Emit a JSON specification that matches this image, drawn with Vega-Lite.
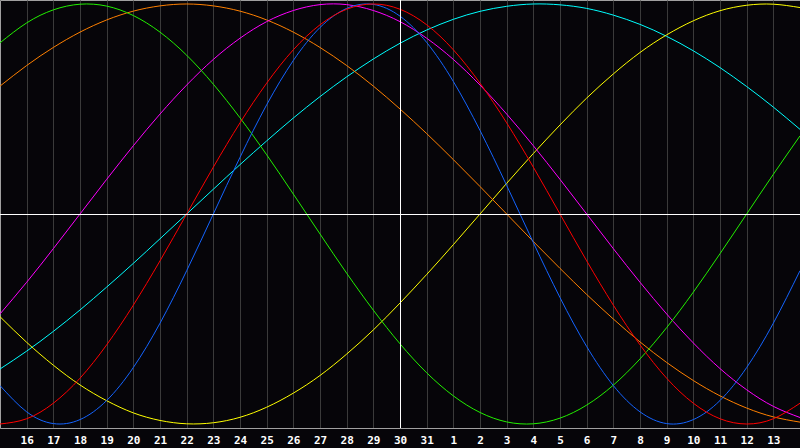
{
  "$schema": "https://vega.github.io/schema/vega-lite/v6.json",
  "width": 800,
  "height": 428,
  "autosize": {"type": "none"},
  "padding": {"left": 0, "top": 0, "right": 0, "bottom": 20},
  "background": "#060509",
  "config": {
    "view": {"stroke": "#a0a0a0", "strokeWidth": 1},
    "axis": {"labelFont": "DejaVu Sans Mono", "labelFontWeight": "bold", "labelFontSize": 11, "labelColor": "#ffffff", "labelOverlap": false}
  },
  "resolve": {"axis": {"x": "independent", "y": "independent"}},
  "datasets": {
    "curves": [
      {"d": 0, "red": -1, "blue": -0.817, "green": 0.815, "magenta": -0.476, "yellow": -0.489, "orange": 0.609, "cyan": -0.738},
      {"d": 1, "red": -0.975, "blue": -0.942, "green": 0.910, "magenta": -0.325, "yellow": -0.611, "orange": 0.707, "cyan": -0.653},
      {"d": 2, "red": -0.901, "blue": -0.998, "green": 0.972, "magenta": -0.165, "yellow": -0.720, "orange": 0.793, "cyan": -0.559},
      {"d": 3, "red": -0.782, "blue": -0.979, "green": 0.999, "magenta": 0, "yellow": -0.814, "orange": 0.866, "cyan": -0.457},
      {"d": 4, "red": -0.623, "blue": -0.888, "green": 0.990, "magenta": 0.165, "yellow": -0.889, "orange": 0.924, "cyan": -0.348},
      {"d": 5, "red": -0.434, "blue": -0.731, "green": 0.945, "magenta": 0.325, "yellow": -0.947, "orange": 0.966, "cyan": -0.235},
      {"d": 6, "red": -0.223, "blue": -0.520, "green": 0.866, "magenta": 0.476, "yellow": -0.983, "orange": 0.991, "cyan": -0.118},
      {"d": 7, "red": 0, "blue": -0.270, "green": 0.756, "magenta": 0.614, "yellow": -0.999, "orange": 1, "cyan": 0},
      {"d": 8, "red": 0.223, "blue": 0, "green": 0.618, "magenta": 0.736, "yellow": -0.994, "orange": 0.991, "cyan": 0.118},
      {"d": 9, "red": 0.434, "blue": 0.270, "green": 0.458, "magenta": 0.837, "yellow": -0.968, "orange": 0.966, "cyan": 0.235},
      {"d": 10, "red": 0.623, "blue": 0.520, "green": 0.282, "magenta": 0.916, "yellow": -0.920, "orange": 0.924, "cyan": 0.348},
      {"d": 11, "red": 0.782, "blue": 0.731, "green": 0.095, "magenta": 0.969, "yellow": -0.853, "orange": 0.866, "cyan": 0.457},
      {"d": 12, "red": 0.901, "blue": 0.888, "green": -0.095, "magenta": 0.997, "yellow": -0.769, "orange": 0.793, "cyan": 0.559},
      {"d": 13, "red": 0.975, "blue": 0.979, "green": -0.282, "magenta": 0.997, "yellow": -0.667, "orange": 0.707, "cyan": 0.653},
      {"d": 14, "red": 1, "blue": 0.998, "green": -0.458, "magenta": 0.969, "yellow": -0.552, "orange": 0.609, "cyan": 0.738},
      {"d": 15, "red": 0.975, "blue": 0.942, "green": -0.618, "magenta": 0.916, "yellow": -0.424, "orange": 0.5, "cyan": 0.813},
      {"d": 16, "red": 0.901, "blue": 0.817, "green": -0.756, "magenta": 0.837, "yellow": -0.288, "orange": 0.383, "cyan": 0.876},
      {"d": 17, "red": 0.782, "blue": 0.631, "green": -0.866, "magenta": 0.736, "yellow": -0.146, "orange": 0.259, "cyan": 0.927},
      {"d": 18, "red": 0.623, "blue": 0.398, "green": -0.945, "magenta": 0.614, "yellow": 0, "orange": 0.131, "cyan": 0.965},
      {"d": 19, "red": 0.434, "blue": 0.136, "green": -0.990, "magenta": 0.476, "yellow": 0.146, "orange": 0, "cyan": 0.989},
      {"d": 20, "red": 0.223, "blue": -0.136, "green": -0.999, "magenta": 0.325, "yellow": 0.288, "orange": -0.131, "cyan": 1.0},
      {"d": 21, "red": 0, "blue": -0.398, "green": -0.972, "magenta": 0.165, "yellow": 0.424, "orange": -0.259, "cyan": 0.996},
      {"d": 22, "red": -0.223, "blue": -0.631, "green": -0.910, "magenta": 0, "yellow": 0.552, "orange": -0.383, "cyan": 0.979},
      {"d": 23, "red": -0.434, "blue": -0.817, "green": -0.815, "magenta": -0.165, "yellow": 0.667, "orange": -0.5, "cyan": 0.947},
      {"d": 24, "red": -0.623, "blue": -0.942, "green": -0.690, "magenta": -0.325, "yellow": 0.769, "orange": -0.609, "cyan": 0.903},
      {"d": 25, "red": -0.782, "blue": -0.998, "green": -0.541, "magenta": -0.476, "yellow": 0.853, "orange": -0.707, "cyan": 0.846},
      {"d": 26, "red": -0.901, "blue": -0.979, "green": -0.372, "magenta": -0.614, "yellow": 0.920, "orange": -0.793, "cyan": 0.777},
      {"d": 27, "red": -0.975, "blue": -0.888, "green": -0.189, "magenta": -0.736, "yellow": 0.968, "orange": -0.866, "cyan": 0.697},
      {"d": 28, "red": -1, "blue": -0.731, "green": 0, "magenta": -0.837, "yellow": 0.994, "orange": -0.924, "cyan": 0.607},
      {"d": 29, "red": -0.975, "blue": -0.520, "green": 0.189, "magenta": -0.916, "yellow": 0.999, "orange": -0.966, "cyan": 0.509},
      {"d": 30, "red": -0.901, "blue": -0.270, "green": 0.372, "magenta": -0.969, "yellow": 0.983, "orange": -0.991, "cyan": 0.403}
    ],
    "today": [{"t": 15}],
    "zero": [{"z": 0}]
  },
  "layer": [
    {
      "data": {"name": "curves"},
      "transform": [{"fold": ["cyan", "yellow", "orange", "magenta", "green", "blue", "red"], "as": ["s", "v"]}],
      "mark": {"type": "line", "strokeWidth": 1, "interpolate": "natural"},
      "encoding": {
        "x": {
          "field": "d", "type": "quantitative",
          "scale": {"domain": [0, 30], "nice": false, "zero": false},
          "axis": {
            "title": null,
            "values": [1,2,3,4,5,6,7,8,9,10,11,12,13,14,15,16,17,18,19,20,21,22,23,24,25,26,27,28,29],
            "labelExpr": "datum.value <= 16 ? datum.value + 15 : datum.value - 16",
            "labelOverlap": false, "labelSeparation": 0, "labelBound": false, "labelFlush": false,
            "grid": true, "gridColor": "#3a3a3a", "gridWidth": 1,
            "ticks": false, "labelPadding": 6,
            "domainColor": "#a0a0a0", "domainWidth": 1
          }
        },
        "y": {
          "field": "v", "type": "quantitative",
          "scale": {"domain": [-1.019, 1.019], "nice": false, "zero": false},
          "axis": null
        },
        "color": {
          "field": "s", "type": "nominal", "legend": null,
          "scale": {
            "domain": ["red", "blue", "green", "magenta", "yellow", "orange", "cyan"],
            "range": ["#ff0000", "#1464ff", "#22f000", "#ff00ff", "#ffff00", "#ff8000", "#00ffff"]
          }
        }
      }
    },
    {
      "data": {"name": "today"},
      "mark": {"type": "rule", "color": "#ffffff", "strokeWidth": 1, "xOffset": 0.5},
      "encoding": {
        "x": {"field": "t", "type": "quantitative", "axis": null}
      }
    },
    {
      "data": {"name": "zero"},
      "mark": {"type": "rule", "color": "#ffffff", "strokeWidth": 1, "yOffset": 0.5},
      "encoding": {
        "y": {"field": "z", "type": "quantitative", "axis": null}
      }
    }
  ]
}
